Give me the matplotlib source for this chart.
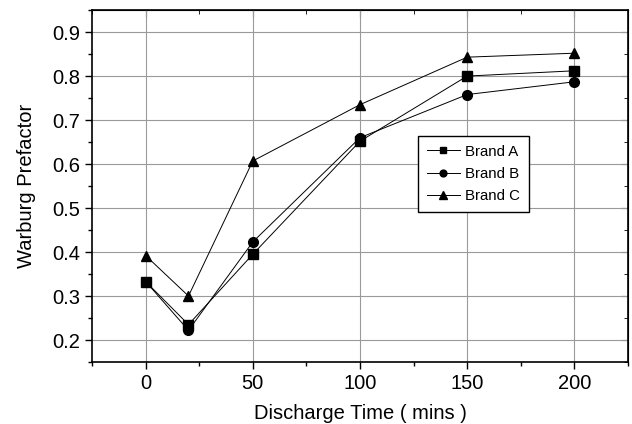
import matplotlib.pyplot as plt

plt.rcParams['font.family'] = ['Liberation Sans', 'DejaVu Sans']

# discharge time (mins)
t = [0, 20, 50, 100, 150, 200]
brand_a = [0.333, 0.235, 0.395, 0.652, 0.800, 0.812]
brand_b = [0.333, 0.222, 0.423, 0.660, 0.758, 0.787]
brand_c = [0.392, 0.300, 0.607, 0.735, 0.843, 0.852]

fig = plt.figure(figsize=(6.32, 4.24), dpi=100)
ax = fig.add_axes([0.1456, 0.1462, 0.848, 0.830])

ax.plot(t, brand_a, color="black", lw=0.7, marker="s", ms=6.5, label="Brand A")
ax.plot(t, brand_b, color="black", lw=0.7, marker="o", ms=7, label="Brand B")
ax.plot(t, brand_c, color="black", lw=0.7, marker="^", ms=7.5, label="Brand C")

ax.set_xlim(-25, 225)
ax.set_ylim(0.15, 0.95)
ax.set_xticks([0, 50, 100, 150, 200])
ax.set_xticks([-25, 25, 75, 125, 175, 225], minor=True)
ax.set_yticks([0.2, 0.3, 0.4, 0.5, 0.6, 0.7, 0.8, 0.9])
ax.set_yticks([0.15, 0.25, 0.35, 0.45, 0.55, 0.65, 0.75, 0.85, 0.95], minor=True)

ax.grid(True, which="major", color="#9a9a9a", lw=0.8)
ax.set_axisbelow(True)
for s in ax.spines.values():
    s.set_linewidth(1.2)

ax.tick_params(which="both", direction="out", labelsize=14.5, width=1)
ax.tick_params(which="major", length=5)
ax.tick_params(which="minor", length=3)

# inward ticks on the top and right spines
top = ax.secondary_xaxis("top")
top.set_xticks([0, 50, 100, 150, 200])
top.set_xticks([-25, 25, 75, 125, 175, 225], minor=True)
top.tick_params(which="both", direction="in", labeltop=False)
top.tick_params(which="major", length=5)
top.tick_params(which="minor", length=3)
right = ax.secondary_yaxis("right")
right.set_yticks([0.2, 0.3, 0.4, 0.5, 0.6, 0.7, 0.8, 0.9])
right.set_yticks([0.15, 0.25, 0.35, 0.45, 0.55, 0.65, 0.75, 0.85, 0.95], minor=True)
right.tick_params(which="both", direction="in", labelright=False)
right.tick_params(which="major", length=5)
right.tick_params(which="minor", length=3)

ax.set_xlabel("Discharge Time ( mins )", fontsize=14.5, labelpad=8)
ax.set_ylabel("Warburg Prefactor", fontsize=14.5, labelpad=12)

leg = ax.legend(loc="lower left", bbox_to_anchor=(0.608, 0.426), fontsize=10.8,
                fancybox=False, framealpha=1, edgecolor="black", borderaxespad=0,
                markerscale=0.7, handlelength=2.2, handletextpad=0.35,
                borderpad=0.6, labelspacing=0.55)
leg.get_frame().set_linewidth(1.0)

plt.savefig("out.png", dpi=100)
